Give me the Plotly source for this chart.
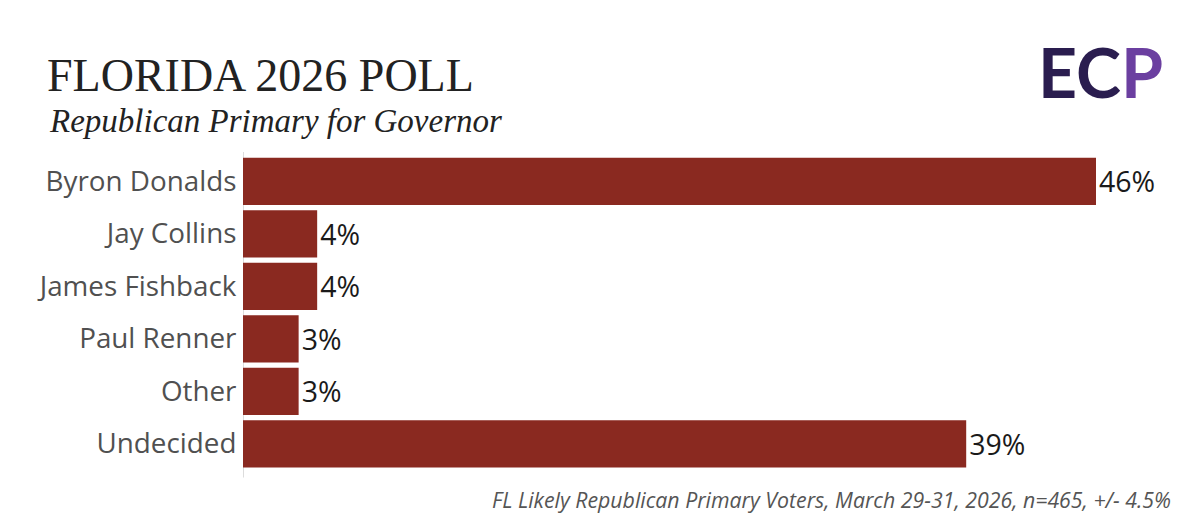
import plotly.graph_objects as go

categories = ["Byron Donalds", "Jay Collins", "James Fishback", "Paul Renner", "Other", "Undecided"]
values = [46, 4, 4, 3, 3, 39]
value_labels = ["46%", "4%", "4%", "3%", "3%", "39%"]

title_text = "FLORIDA 2026 POLL"
subtitle_text = "Republican Primary for Governor"
footnote_text = "FL Likely Republican Primary Voters, March 29-31, 2026, n=465, +/- 4.5%"

# page is rendered with an 8px body margin; work in page pixel coords
OFF = 8
W, H = 1200 - OFF, 521 - OFF
PLOT_L, PLOT_R, PLOT_T, PLOT_B = 243, 1180, 155, 470.5   # page coords
ML = PLOT_L - OFF
MR = (1200 - PLOT_R)
MT = PLOT_T - OFF
MB = 521 - PLOT_B
PW = PLOT_R - PLOT_L
PH = PLOT_B - PLOT_T
px_per_unit = (1096 - 243) / 46.0
xmax = PW / px_per_unit

def px_x(p):
    return (p - PLOT_L) / PW

def px_y(p):
    return (PLOT_B - p) / PH

bar_color = "#8A2920"
sans = "Open Sans"

fig = go.Figure()
fig.add_trace(go.Bar(
    y=categories,
    x=values,
    orientation="h",
    marker=dict(color=bar_color, line=dict(width=0)),
    text=value_labels,
    textposition="outside",
    textfont=dict(family=sans, size=28.5, color="#1a1a1a"),
    cliponaxis=False,
    hoverinfo="skip",
))

fig.update_layout(
    width=W, height=H,
    margin=dict(l=ML, r=MR, t=MT, b=MB, pad=0),
    paper_bgcolor="white",
    plot_bgcolor="white",
    showlegend=False,
    bargap=0.1,
    xaxis=dict(range=[0, xmax], visible=False, fixedrange=True),
    yaxis=dict(
        categoryorder="array",
        categoryarray=categories,
        autorange="reversed",
        showgrid=False,
        zeroline=False,
        showline=False,
        ticks="outside",
        ticklen=0,
        tickcolor="rgba(0,0,0,0)",
        tickfont=dict(family=sans, size=27.8, color="#505050"),
        fixedrange=True,
    ),
    shapes=[dict(
        type="line", xref="x", yref="paper",
        x0=0, x1=0, y0=px_y(478), y1=px_y(152),
        line=dict(color="#d0d0d0", width=1.5),
        layer="below",
    )],
    annotations=[
        dict(text=title_text, xref="paper", yref="paper",
             x=px_x(45), y=px_y(75), xanchor="left", yanchor="middle",
             showarrow=False,
             font=dict(family="Liberation Serif", size=46, color="#222222")),
        dict(text="<i>" + subtitle_text + "</i>", xref="paper", yref="paper",
             x=px_x(47), y=px_y(121), xanchor="left", yanchor="middle",
             showarrow=False,
             font=dict(family="Liberation Serif", size=33, color="#222222")),
        dict(text="<i>" + footnote_text + "</i>", xref="paper", yref="paper",
             x=px_x(1173), y=px_y(500), xanchor="right", yanchor="middle",
             showarrow=False,
             font=dict(family=sans, size=21.3, color="#555555")),
        dict(text="<b>EC<span style='color:#6b3fa0'>P</span></b>", xref="paper", yref="paper",
             x=px_x(1165), y=px_y(71), xanchor="right", yanchor="middle",
             showarrow=False,
             font=dict(family="Lato", size=68, color="#2a1d4f", weight=900)),
    ],
)

fig.write_html("out.html")
